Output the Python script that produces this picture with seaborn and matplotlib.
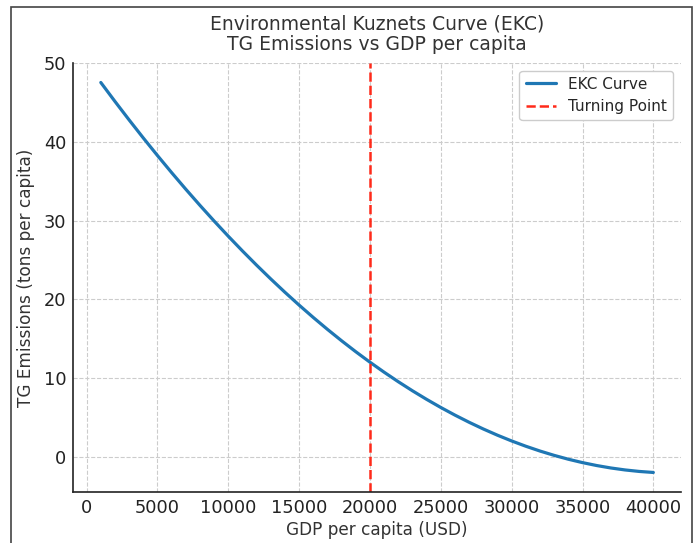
import numpy as np
import pandas as pd
import seaborn as sns
import matplotlib
matplotlib.use("Agg")
import matplotlib.pyplot as plt
from matplotlib.patches import Rectangle

# Values
gdp = [1000, 2000, 3000, 4000, 5000, 6000, 7000, 8000, 9000, 10000,
       11000, 12000, 13000, 14000, 15000, 16000, 17000, 18000, 19000, 20000,
       21000, 22000, 23000, 24000, 25000, 26000, 27000, 28000, 29000, 30000,
       31000, 32000, 33000, 34000, 35000, 36000, 37000, 38000, 39000, 40000]
emissions = [47.53, 45.12, 42.77, 40.48, 38.25, 36.08, 33.97, 31.92, 29.93, 28.00,
             26.13, 24.32, 22.57, 20.88, 19.25, 17.68, 16.17, 14.72, 13.33, 12.00,
             10.73, 9.52, 8.37, 7.28, 6.25, 5.28, 4.37, 3.52, 2.73, 2.00,
             1.33, 0.72, 0.17, -0.32, -0.75, -1.12, -1.43, -1.68, -1.87, -2.00]
turning_point = 20000

df = pd.DataFrame({"GDP": gdp, "Emissions": emissions})

sns.set_theme(style="white")
plt.rcParams["font.family"] = ["DejaVu Sans"]

fig = plt.figure(figsize=(6.97, 5.43), dpi=100)
ax = fig.add_axes([0.105, 0.094, 0.872, 0.79])

sns.lineplot(data=df, x="GDP", y="Emissions", ax=ax, color="#1f77b4",
             linewidth=2.3, label="EKC Curve")
ax.axvline(turning_point, color="#ff2a1a", linestyle="--", linewidth=1.8,
           label="Turning Point")

ax.margins(x=0.05, y=0.05)
ax.set_xticks([0, 5000, 10000, 15000, 20000, 25000, 30000, 35000, 40000])
ax.set_yticks([0, 10, 20, 30, 40, 50])
ax.grid(True, linestyle="--", color="#cccccc", linewidth=0.8)

for s in ["top", "right"]:
    ax.spines[s].set_visible(False)
for s in ["left", "bottom"]:
    ax.spines[s].set_color("#222222")
    ax.spines[s].set_linewidth(1.2)
ax.tick_params(axis="both", direction="in", length=4, width=1, colors="#222222",
               labelsize=12.8, labelcolor="#222222", pad=5)

ax.set_title("Environmental Kuznets Curve (EKC)\nTG Emissions vs GDP per capita",
             fontsize=13.5, color="#333333", pad=9, linespacing=1.1)
ax.set_xlabel("GDP per capita (USD)", fontsize=12.2, color="#333333", labelpad=3)
ax.set_ylabel("TG Emissions (tons per capita)", fontsize=12.2, color="#333333", labelpad=6)

leg = ax.legend(loc="upper right", fontsize=11, frameon=True, fancybox=True,
                edgecolor="#cccccc", framealpha=1.0)

fig.patches.append(Rectangle((11 / 697, -0.1), (692 - 11) / 697, 1.1 - 7 / 543,
                             transform=fig.transFigure, fill=False,
                             edgecolor="#444444", linewidth=1.2))

fig.savefig("out.png", dpi=100)
